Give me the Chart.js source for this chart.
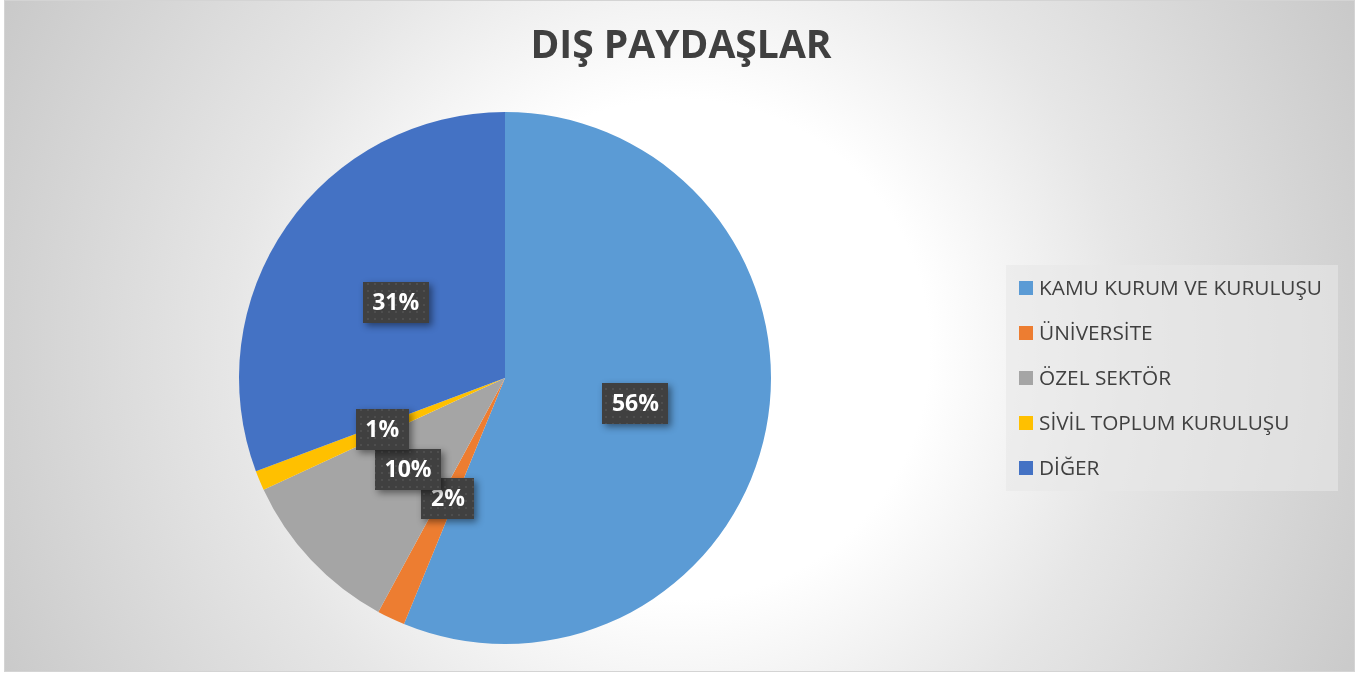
<!DOCTYPE html>
<html>
<head>
<meta charset="utf-8">
<script src="https://cdn.jsdelivr.net/npm/chart.js@4/dist/chart.umd.min.js"></script>
<style>
  html, body { margin: 0; padding: 0; background: #ffffff; width: 1366px; height: 675px; overflow: hidden; }
  #frame {
    position: absolute; left: 4px; top: 0px; width: 1349px; height: 670px;
    border: 1px solid #d4d4d4;
    background: radial-gradient(circle at 50% 52%, #ffffff 0px, #ffffff 250px, #e6e6e6 450px, #c9c9c9 760px);
  }
  #c { position: absolute; left: 0; top: 0; }
</style>
</head>
<body>
<div id="frame"></div>
<canvas id="c" width="1366" height="675"></canvas>
<script>
const chartTitle = 'DIŞ PAYDAŞLAR';
const categories = ['KAMU KURUM VE KURULUŞU', 'ÜNİVERSİTE', 'ÖZEL SEKTÖR', 'SİVİL TOPLUM KURULUŞU', 'DİĞER'];
const shares = [56.2, 1.7, 10.2, 1.2, 30.7];
const sliceColors = ['#5B9BD5', '#ED7D31', '#A5A5A5', '#FFC000', '#4472C4'];

const FONT = "'Open Sans', 'Liberation Sans', sans-serif";

function makePattern(ctx) {
  const p = document.createElement('canvas');
  p.width = 7; p.height = 7;
  const pc = p.getContext('2d');
  pc.fillStyle = '#404040';
  pc.fillRect(0, 0, 7, 7);
  pc.fillStyle = '#4e4e4e';
  pc.fillRect(3, 3, 2, 2);
  return ctx.createPattern(p, 'repeat');
}

const titlePlugin = {
  id: 'titleDraw',
  afterDraw(chart) {
    const ctx = chart.ctx;
    ctx.save();
    ctx.fillStyle = '#404040';
    ctx.font = "bold 39px " + FONT;
    ctx.textAlign = 'center';
    ctx.textBaseline = 'alphabetic';
    ctx.fillText(chartTitle, 681, 58);
    ctx.restore();
  }
};

const legendPlugin = {
  id: 'legendDraw',
  afterDraw(chart) {
    const ctx = chart.ctx;
    const box = { x: 1006, y: 265, w: 332, h: 226 };
    ctx.save();
    ctx.fillStyle = 'rgba(232,232,232,0.6)';
    ctx.fillRect(box.x, box.y, box.w, box.h);
    const labels = chart.data.labels;
    const colors = chart.data.datasets[0].backgroundColor;
    ctx.font = "20.8px " + FONT;
    ctx.textBaseline = 'middle';
    ctx.textAlign = 'left';
    labels.forEach((lab, i) => {
      const cy = 288 + i * 45;
      ctx.fillStyle = colors[i];
      ctx.fillRect(1019, cy - 7, 14, 14);
      ctx.fillStyle = '#404040';
      ctx.fillText(lab, 1039, cy + 1);
    });
    ctx.restore();
  }
};

const dataLabelPlugin = {
  id: 'dataLabels',
  afterDatasetsDraw(chart) {
    const ctx = chart.ctx;
    const meta = chart.getDatasetMeta(0);
    const data = chart.data.datasets[0].data;
    const total = data.reduce((a, b) => a + b, 0);
    const pattern = makePattern(ctx);
    ctx.save();
    ctx.font = "bold 23px " + FONT;
    meta.data.forEach((arc, i) => {
      const pos = arc.tooltipPosition();
      const txt = Math.round(data[i] / total * 100) + '%';
      const tw = ctx.measureText(txt).width;
      const w = Math.round(tw + 19), h = 41;
      const x = Math.round(pos.x - w / 2), y = Math.round(pos.y - h / 2);
      ctx.save();
      ctx.shadowColor = 'rgba(0,0,0,0.45)';
      ctx.shadowBlur = 7;
      ctx.shadowOffsetX = 3;
      ctx.shadowOffsetY = 3;
      ctx.fillStyle = '#404040';
      ctx.fillRect(x, y, w, h);
      ctx.restore();
      ctx.fillStyle = pattern;
      ctx.fillRect(x, y, w, h);
      ctx.fillStyle = '#ffffff';
      ctx.textAlign = 'center';
      ctx.textBaseline = 'middle';
      ctx.fillText(txt, pos.x, pos.y + 1);
    });
    ctx.restore();
  }
};

new Chart(document.getElementById('c'), {
  type: 'pie',
  data: {
    labels: categories,
    datasets: [{
      data: shares,
      backgroundColor: sliceColors,
      borderWidth: 0
    }]
  },
  options: {
    responsive: false,
    animation: false,
    layout: { padding: { top: 112, bottom: 31, left: 239, right: 595 } },
    plugins: {
      legend: { display: false },
      title: { display: false },
      tooltip: { enabled: false }
    }
  },
  plugins: [dataLabelPlugin, titlePlugin, legendPlugin]
});
</script>
</body>
</html>
